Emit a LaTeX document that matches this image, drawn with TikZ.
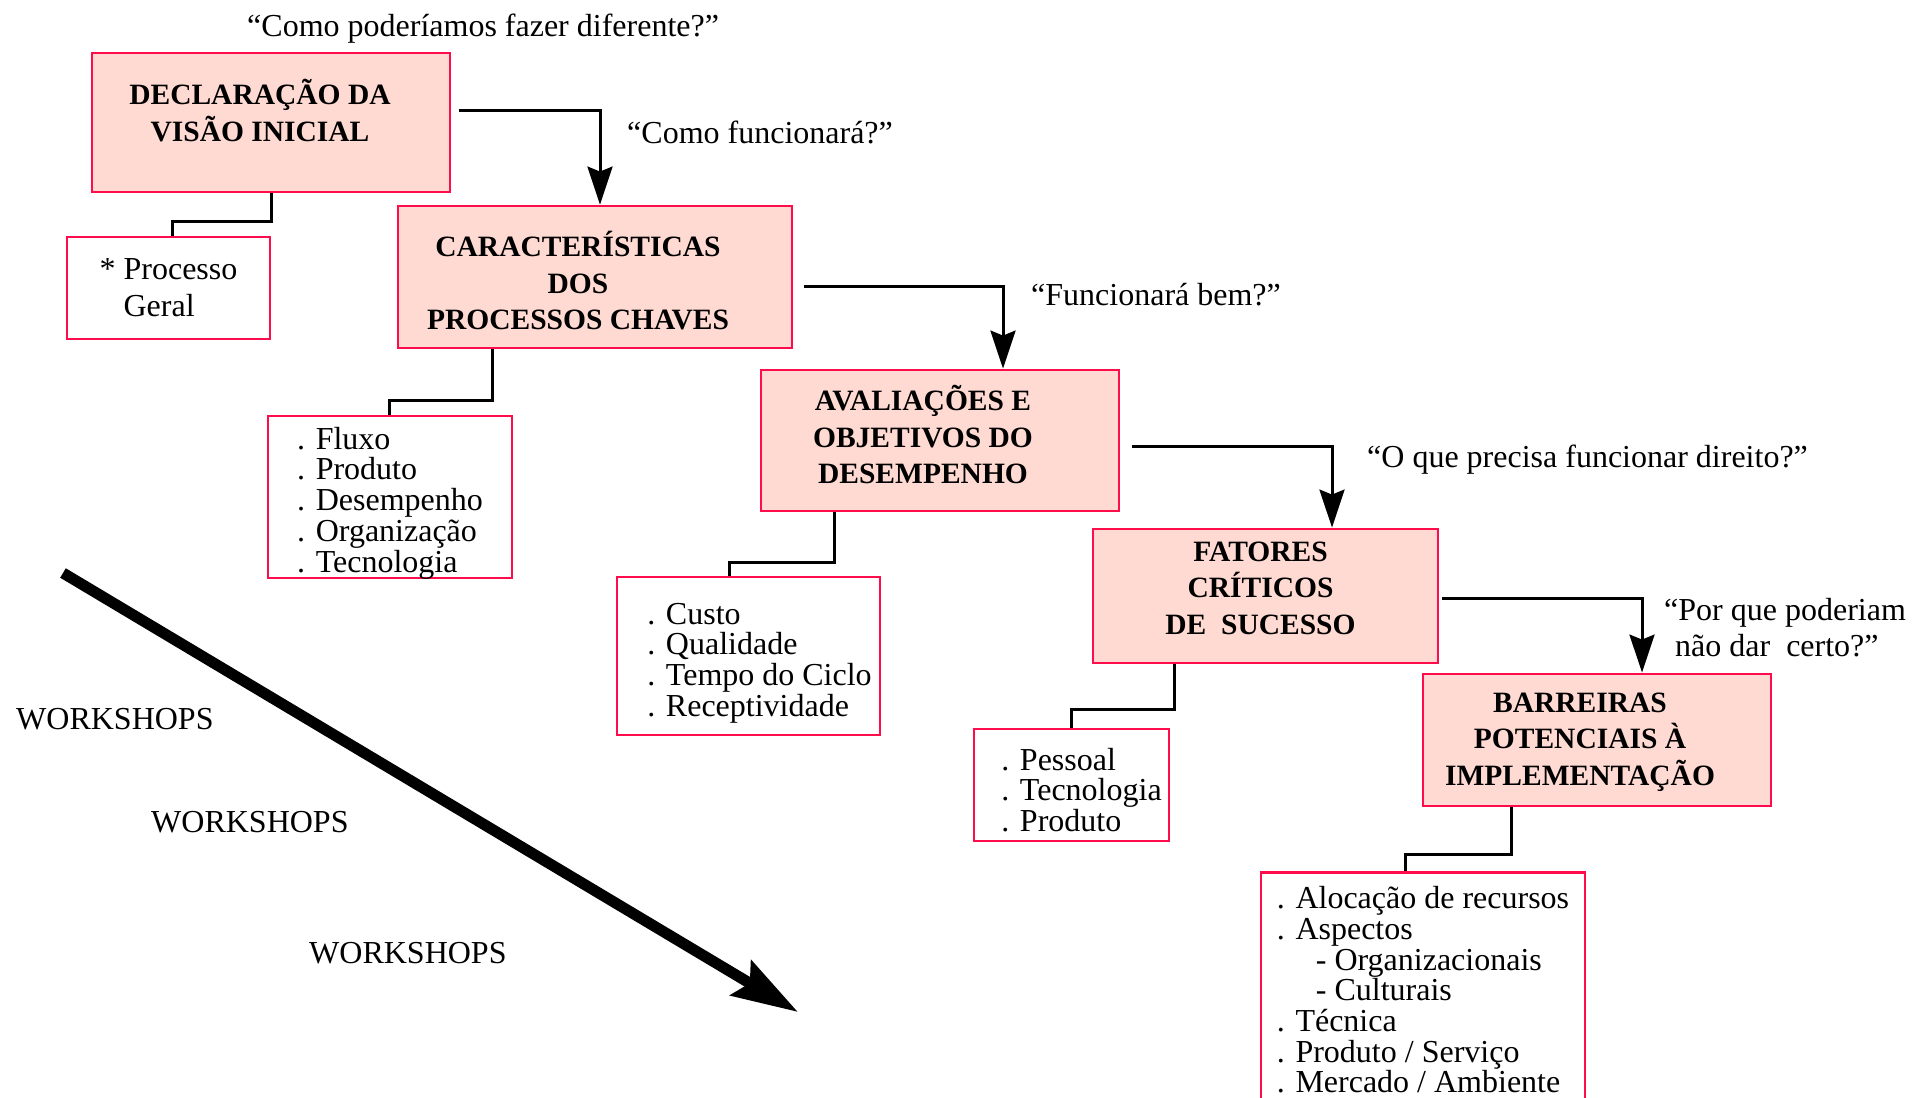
\documentclass[tikz,border=0pt]{standalone}
\usepackage{fontspec}
\setmainfont{Liberation Serif}
\usetikzlibrary{arrows.meta}
\definecolor{boxfill}{RGB}{255,218,210}
\definecolor{boxline}{RGB}{255,12,76}
\newcommand\listfont{\fontsize{32}{30.7}\selectfont}

\begin{document}
\begin{tikzpicture}[x=1pt,y=-1pt,
  stage/.style={draw=boxline,fill=boxfill,line width=2.8pt},
  stagetext/.style={align=center,font=\fontsize{29.5}{36.5}\selectfont\bfseries},
  items/.style={draw=boxline,line width=2.8pt,align=left,inner sep=4pt,font=\listfont},
  itemtext/.style={align=left,font=\listfont},
  ask/.style={inner sep=0pt,font=\fontsize{32}{36}\selectfont},
  flow/.style={line width=3pt,-{Stealth[length=38pt,width=25pt,inset=5pt]}},
  link/.style={line width=3pt},
  trend/.style={line width=11pt,-{Stealth[length=66pt,width=40pt,inset=10pt]}}]
\useasboundingbox (0,0) rectangle (1926,1097);

% main stages
\node[stage,minimum width=358pt,minimum height=139pt,
  label={[stagetext,shift={(-11,-12)}]center:DECLARAÇÃO DA\\VISÃO INICIAL}](visao) at (271,122.5) {};
\node[stage,minimum width=394pt,minimum height=142pt,
  label={[stagetext,shift={(-17,4)}]center:CARACTERÍSTICAS\\DOS\\PROCESSOS CHAVES}](carac) at (595,277) {};
\node[stage,minimum width=358pt,minimum height=141pt,
  label={[stagetext,shift={(-17,-6)}]center:AVALIAÇÕES E\\OBJETIVOS DO\\DESEMPENHO}](aval) at (940,440.5) {};
\node[stage,minimum width=345pt,minimum height=134pt,
  label={[stagetext,shift={(-5,-8)}]center:FATORES\\CRÍTICOS\\DE~ SUCESSO}](fatores) at (1265.5,596) {};
\node[stage,minimum width=348pt,minimum height=132pt,
  label={[stagetext,shift={(-17,2)}]center:BARREIRAS\\POTENCIAIS À\\IMPLEMENTAÇÃO}](barreiras) at (1597,740) {};

% lists
\node[items,font=\fontsize{32}{37}\selectfont,minimum width=203pt,minimum height=102pt](geral) at (168.5,288)
  {* Processo\\\phantom{* }Geral};
\node[items,minimum width=244pt,minimum height=162pt,
  label={[itemtext,shift={(0,6)}]center:. Fluxo\\. Produto\\. Desempenho\\. Organização\\. Tecnologia}](fluxo) at (390,497) {};
\node[items,minimum width=263pt,minimum height=158pt,
  label={[itemtext,shift={(11,7)}]center:. Custo\\. Qualidade\\. Tempo do Ciclo\\. Receptividade}](custo) at (748.5,656) {};
\node[items,minimum width=195pt,minimum height=112pt,
  label={[itemtext,shift={(10,5)}]center:. Pessoal\\. Tecnologia\\. Produto}](pessoal) at (1071.5,785) {};
\node[items,anchor=north,inner ysep=14pt,minimum width=324pt](alocacao) at (1423,871)
  {. Alocação de recursos\\. Aspectos\\\hspace*{39pt}- Organizacionais\\\hspace*{39pt}- Culturais\\. Técnica\\. Produto / Serviço\\. Mercado / Ambiente};

% questions
\node[ask,anchor=base west](q1) at (247,37) {“Como poderíamos fazer diferente?”};
\node[ask,anchor=base west](q2) at (627,143) {“Como funcionará?”};
\node[ask,anchor=base west](q3) at (1031,305) {“Funcionará bem?”};
\node[ask,anchor=base west](q4) at (1367,467) {“O que precisa funcionar direito?”};
\node[ask,anchor=west,align=left](q5) at (1664,628) {“Por que poderiam\\\hspace*{11pt}não dar~ certo?”};

\node[ask,anchor=base west](ws1) at (16,729) {WORKSHOPS};
\node[ask,anchor=base west](ws2) at (151,832) {WORKSHOPS};
\node[ask,anchor=base west](ws3) at (309,963) {WORKSHOPS};

% arrows between stages
\draw[flow] ([shift={(8,-12)}]visao.east) -| ([xshift=5pt]carac.north);
\draw[flow] ([shift={(11,9)}]carac.east) -| ([xshift=63pt]aval.north);
\draw[flow] ([shift={(12,5.5)}]aval.east) -| ([xshift=66.5pt]fatores.north);
\draw[flow] ([shift={(3,2)}]fatores.east) -| ([xshift=45pt]barreiras.north);

% links to lists
\draw[link] (visao.south) -- ++(0,28) -| ([xshift=4pt]geral.north);
\draw[link] ([xshift=-103pt]carac.south) -- ++(0,51) -| ([xshift=-1pt]fluxo.north);
\draw[link] ([xshift=-106pt]aval.south) -- ++(0,50) -| ([xshift=-19pt]custo.north);
\draw[link] ([xshift=-91.5pt]fatores.south) -- ++(0,45) -| (pessoal.north);
\draw[link] ([xshift=-86pt]barreiras.south) -- ++(0,47) -| ([xshift=-18pt]alocacao.north);

% big arrow
\coordinate (wsstart) at (63,573);
\coordinate (wsend) at (798,1012);
\draw[trend] (wsstart) -- (wsend);
\end{tikzpicture}
\end{document}
